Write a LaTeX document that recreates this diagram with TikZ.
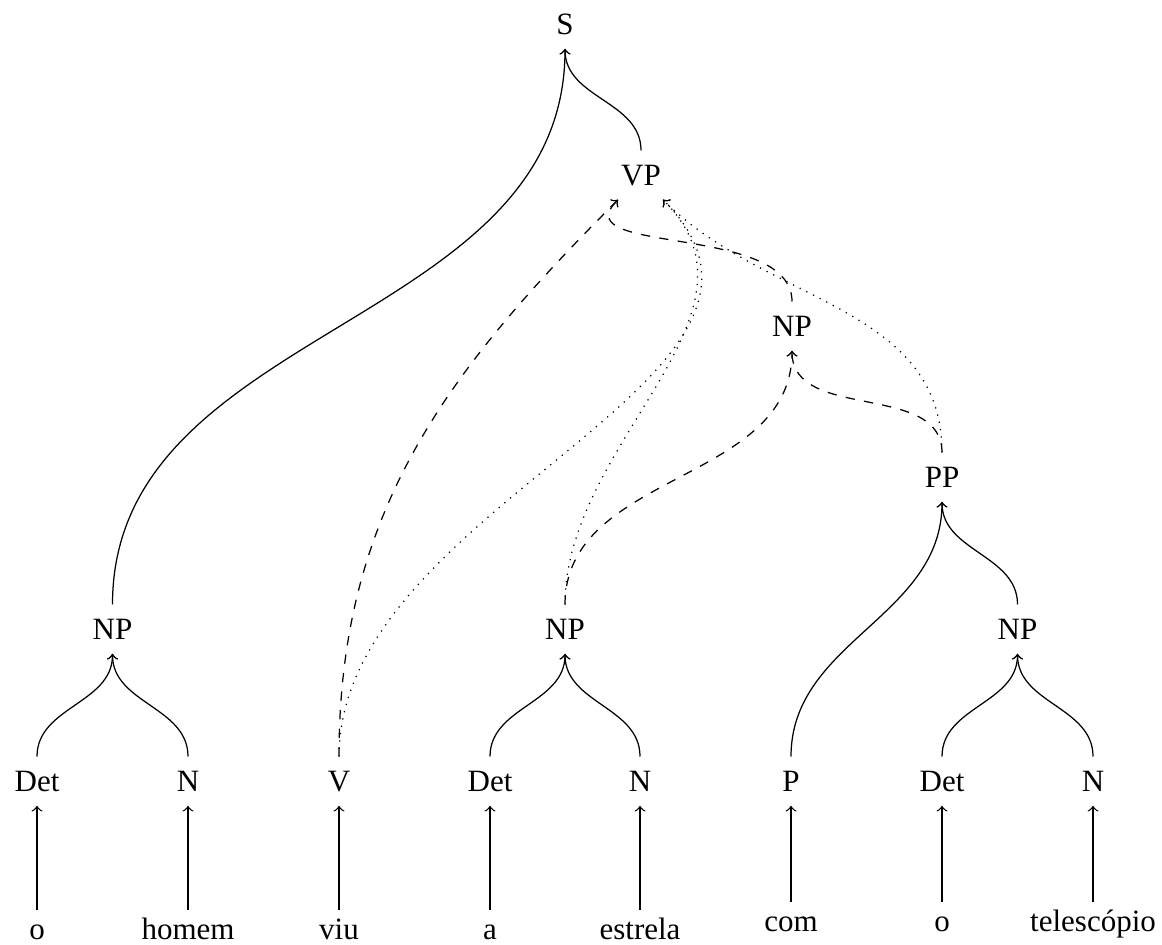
\documentclass[tikz,border=0pt]{standalone}
\usepackage{fontspec}
\setmainfont{Liberation Serif}
\usetikzlibrary{calc}
\begin{document}
\begin{tikzpicture}[x=0.32258pt, y=0.32258pt,
  cat/.style={anchor=base, inner xsep=3pt, inner ysep=4.25pt,
              text height=7pt, text depth=0pt, font=\fontsize{10}{12}\selectfont},
  word/.style={cat, inner ysep=2.5pt},
  edge/.style={->, line width=0.4pt},
  arc/.style={edge, out=90, in=-90},
  altA/.style={edge, dashed},
  altB/.style={edge, dotted},
]
\useasboundingbox (0,0) rectangle (1162,944);

% words
\node[word] (w1) at (37,4)    {o};
\node[word] (w2) at (188,4)   {homem};
\node[word] (w3) at (339,4)   {viu};
\node[word] (w4) at (490,4)   {a};
\node[word] (w5) at (640,4)   {estrela};
\node[word] (w6) at (791,12)  {com};
\node[word] (w7) at (942,12)  {o};
\node[word] (w8) at (1093,12) {telescópio};

% parts of speech
\node[cat] (t1) at (37,152)   {Det};
\node[cat] (t2) at (188,152)  {N};
\node[cat] (t3) at (339,152)  {V};
\node[cat] (t4) at (490,152)  {Det};
\node[cat] (t5) at (640,152)  {N};
\node[cat] (t6) at (791,152)  {P};
\node[cat] (t7) at (942,152)  {Det};
\node[cat] (t8) at (1093,152) {N};

% phrases
\node[cat] (np1) at (112.5,304)  {NP};
\node[cat] (np2) at (565,304)    {NP};
\node[cat] (np3) at (1017.5,304) {NP};
\node[cat] (pp)  at (942,456)    {PP};
\node[cat] (npx) at (792,607)    {NP};
\node[cat] (vp)  at (641,758)    {VP};
\node[cat] (s)   at (565,909)    {S};

% attachment points below VP
\coordinate (vpL) at ($(vp.south)+(-23,0)$);
\coordinate (vpR) at ($(vp.south)+(22,0)$);

% lexical arrows
\foreach \i in {1,...,8}
  \draw[edge] (w\i.north) -- (t\i.south);

% shared structure
\draw[arc] (t1.north) to (np1.south);
\draw[arc] (t2.north) to (np1.south);
\draw[arc] (t4.north) to (np2.south);
\draw[arc] (t5.north) to (np2.south);
\draw[arc] (t7.north) to (np3.south);
\draw[arc] (t8.north) to (np3.south);
\draw[arc] (t6.north) to (pp.south);
\draw[arc] (np3.north) to (pp.south);
\draw[arc] (np1.north) to (s.south);
\draw[arc] (vp.north) to (s.south);

% first reading: PP attached to the object NP
\draw[altA, out=90, in=-135] (t3.north) to (vpL);
\draw[altA, out=90, in=-135] (npx.north) to (vpL);
\draw[altA, out=90, in=-90] (np2.north) to (npx.south);
\draw[altA, out=90, in=-90] (pp.north) to (npx.south);

% second reading: PP attached to VP
\draw[altB, out=90, in=-45] (t3.north) to (vpR);
\draw[altB, out=90, in=-45] (np2.north) to (vpR);
\draw[altB, out=90, in=-45] (pp.north) to (vpR);
\end{tikzpicture}
\end{document}
